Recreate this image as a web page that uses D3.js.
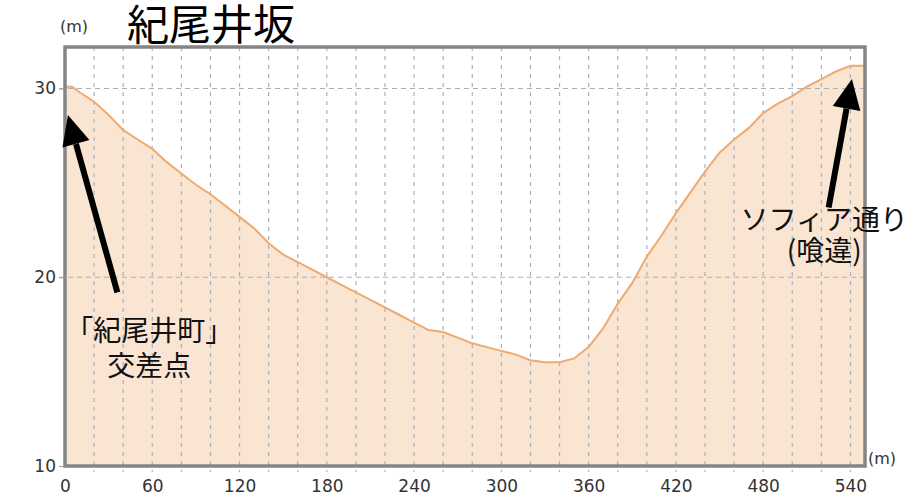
<!DOCTYPE html>
<html>
<head>
<meta charset="utf-8">
<script src="https://cdn.jsdelivr.net/npm/d3@7"></script>
<style>
  body { margin: 0; background: #fff; }
  svg { display: block; }
</style>
</head>
<body>
<svg id="chart" width="915" height="503"></svg>
<script>
// profile (distance m, elevation m)
const distance = [0, 5, 10, 20, 30, 40, 50, 60, 70, 80, 90, 100, 110, 120, 130, 140, 150, 160, 170, 180,
    190, 200, 210, 220, 230, 240, 250, 260, 270, 280, 290, 300, 310, 320, 330, 340, 350, 360, 370, 380,
    390, 400, 410, 420, 430, 440, 450, 460, 470, 480, 490, 500, 510, 520, 530, 540, 550];
const elevation = [30.1, 30.1, 29.8, 29.3, 28.6, 27.8, 27.3, 26.8, 26.1, 25.5, 24.9, 24.4, 23.8, 23.2, 22.6, 21.8, 21.2, 20.8, 20.4, 20.0,
    19.6, 19.2, 18.8, 18.4, 18.0, 17.6, 17.2, 17.1, 16.8, 16.5, 16.3, 16.1, 15.9, 15.6, 15.5, 15.5, 15.7, 16.3, 17.3, 18.6,
    19.7, 21.1, 22.2, 23.4, 24.5, 25.6, 26.6, 27.3, 27.9, 28.7, 29.2, 29.6, 30.1, 30.5, 30.9, 31.2, 31.2];
const xTicks = [0, 60, 120, 180, 240, 300, 360, 420, 480, 540];
const yTicks = [10, 20, 30];
const xGrid = d3.range(20, 550, 20);
const yGrid = [20, 30];

const title = '紀尾井坂';
// arrows: tail -> tip in data units
const arrows = [
    { from: [36, 19.2], to: [2, 28.6] },
    { from: [525, 23.7], to: [541, 30.5] }
];
const notes = [
    { lines: ['「紀尾井町」', '交差点'], at: [58, 16.6] },
    { lines: ['ソフィア通り', '(喰違)'], at: [522, 22.5] }
];
const noteGap = [35, 31];

const svg = d3.select('#chart');
const margin = { top: 47, right: 50, bottom: 37, left: 65 };
const width = 915, height = 503;

const x = d3.scaleLinear().domain([0, 550]).range([margin.left, width - margin.right]);
const y = d3.scaleLinear().domain([10, 32.2]).range([height - margin.bottom, margin.top]);

const pts = distance.map((d, i) => [d, elevation[i]]);

// filled profile
svg.append('path')
    .datum(pts)
    .attr('fill', '#f9e5d2')
    .attr('d', d3.area().x(d => x(d[0])).y0(y(10)).y1(d => y(d[1])));

// grid
svg.append('g').selectAll('line')
    .data(xGrid)
    .join('line')
    .attr('x1', d => x(d)).attr('x2', d => x(d))
    .attr('y1', y(32.2)).attr('y2', y(10) + 6)
    .attr('stroke', '#aab0bb')
    .attr('stroke-width', 1.2)
    .attr('stroke-dasharray', '4,5');
svg.append('g').selectAll('line')
    .data(yGrid)
    .join('line')
    .attr('x1', x(0) - 6).attr('x2', x(550))
    .attr('y1', d => y(d)).attr('y2', d => y(d))
    .attr('stroke', '#aab0bb')
    .attr('stroke-width', 1.2)
    .attr('stroke-dasharray', '5,4');

svg.append('path')
    .datum(pts)
    .attr('fill', 'none')
    .attr('stroke', '#eeaa70')
    .attr('stroke-width', 2)
    .attr('d', d3.line().x(d => x(d[0])).y(d => y(d[1])));

// frame
svg.append('rect')
    .attr('x', x(0)).attr('y', y(32.2))
    .attr('width', x(550) - x(0)).attr('height', y(10) - y(32.2))
    .attr('fill', 'none')
    .attr('stroke', '#858585')
    .attr('stroke-width', 3.5);

// axes
const xAxis = svg.append('g')
    .attr('transform', `translate(0,${y(10)})`)
    .call(d3.axisBottom(x).tickValues(xTicks).tickSize(0).tickPadding(14));
const yAxis = svg.append('g')
    .attr('transform', `translate(${x(0)},0)`)
    .call(d3.axisLeft(y).tickValues(yTicks).tickSize(6).tickPadding(3));
[xAxis, yAxis].forEach(a => {
    a.select('.domain').remove();
    a.selectAll('line').attr('stroke', '#999');
    a.selectAll('text')
        .attr('fill', '#333')
        .style('font-family', '"DejaVu Sans", sans-serif')
        .style('font-size', '17px');
});

svg.append('text')
    .attr('x', 60).attr('y', 32)
    .attr('fill', '#333')
    .style('font-family', '"DejaVu Sans", sans-serif')
    .style('font-size', '16px')
    .text('(m)');
svg.append('text')
    .attr('x', 868).attr('y', 464)
    .attr('fill', '#333')
    .style('font-family', '"DejaVu Sans", sans-serif')
    .style('font-size', '16px')
    .text('(m)');

svg.append('text')
    .attr('x', 127).attr('y', 40)
    .attr('fill', '#000')
    .style('font-family', '"Noto Sans CJK JP", sans-serif')
    .style('font-size', '42px')
    .text(title);

// annotation arrows
arrows.forEach(a => {
    const x1 = x(a.from[0]), y1 = y(a.from[1]);
    const x2 = x(a.to[0]), y2 = y(a.to[1]);
    const ang = Math.atan2(y2 - y1, x2 - x1);
    const len = 30, half = 14;
    const bx = x2 - len * Math.cos(ang), by = y2 - len * Math.sin(ang);
    svg.append('line')
        .attr('x1', x1).attr('y1', y1).attr('x2', bx).attr('y2', by)
        .attr('stroke', '#000').attr('stroke-width', 6);
    const px = -Math.sin(ang), py = Math.cos(ang);
    svg.append('path')
        .attr('d', `M${x2},${y2}L${bx + px * half},${by + py * half}L${bx - px * half},${by - py * half}Z`)
        .attr('fill', '#000');
});

notes.forEach((n, k) => {
    const t = svg.append('text')
        .attr('text-anchor', 'middle')
        .attr('fill', '#111')
        .style('font-family', '"Noto Sans CJK JP", sans-serif')
        .style('font-size', '28px');
    n.lines.forEach((s, i) => {
        t.append('tspan')
            .attr('x', x(n.at[0]))
            .attr('y', y(n.at[1]) + i * noteGap[k])
            .text(s);
    });
});
</script>
</body>
</html>
